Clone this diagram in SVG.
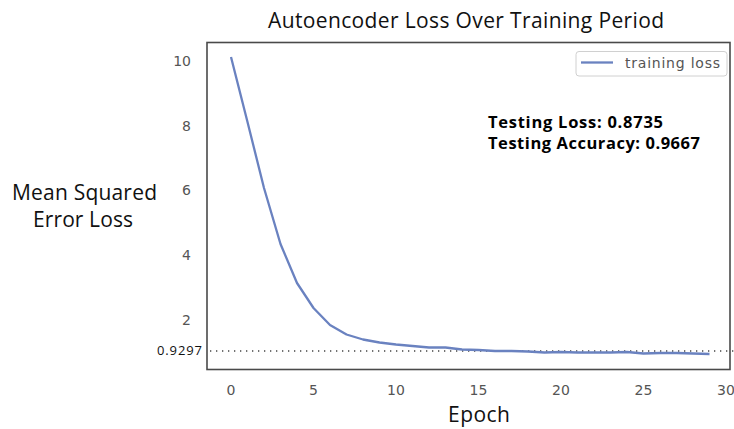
<svg xmlns="http://www.w3.org/2000/svg" width="734" height="429" viewBox="0 0 734 429">
<style>
.tick{font-family:"DejaVu Sans",sans-serif;font-size:14px;fill:#555}
.lab{font-family:"Open Sans","Liberation Sans",sans-serif;font-size:21px;fill:#111}
.bold{font-family:"Open Sans","Liberation Sans",sans-serif;font-size:16.5px;font-weight:bold;fill:#000}
</style>
<rect width="734" height="429" fill="#fff"/>
<g id="title"><text class="lab" x="268" y="28" font-size="19.5" textLength="396">Autoencoder Loss Over Training Period</text></g>
<g id="frame"><rect x="207" y="42.5" width="523" height="327" fill="none" stroke="#4a4a4a" stroke-width="1.6"/></g>
<g id="yticks">
<text class="tick" x="191" y="66" text-anchor="end">10</text>
<text class="tick" x="191" y="131" text-anchor="end">8</text>
<text class="tick" x="191" y="195" text-anchor="end">6</text>
<text class="tick" x="191" y="260" text-anchor="end">4</text>
<text class="tick" x="191" y="325" text-anchor="end">2</text>
</g>
<g id="xticks">
<text class="tick" x="231" y="395" text-anchor="middle">0</text>
<text class="tick" x="313.5" y="395" text-anchor="middle">5</text>
<text class="tick" x="396" y="395" text-anchor="middle">10</text>
<text class="tick" x="478.5" y="395" text-anchor="middle">15</text>
<text class="tick" x="561" y="395" text-anchor="middle">20</text>
<text class="tick" x="643.5" y="395" text-anchor="middle">25</text>
<text class="tick" x="726" y="395" text-anchor="middle">30</text>
</g>
<g id="ylabel"><text class="lab" x="12" y="200" textLength="145">Mean Squared</text><text class="lab" x="33" y="227" textLength="100">Error Loss</text></g>
<g id="xlabel"><text class="lab" x="448" y="422" textLength="62">Epoch</text></g>
<g id="connectors">
<line id="minline" x1="210" y1="351" x2="734" y2="351" stroke="#444" stroke-width="1.3" stroke-dasharray="1.3 4.7"/>
<polyline id="curve" fill="none" stroke="#6a82c0" stroke-width="2.3" stroke-linejoin="round" points="231,57 247.5,122 264,188 280.5,244 297,283 313.5,308 330,325 346.5,334.5 363,339.5 379.5,342.5 396,344.5 412.5,346 429,347.5 445.5,347.5 462,349.5 478.5,350 495,351 511.5,351 528,351.5 544.5,352.5 561,352 577.5,352.5 594,352.5 610.5,352.5 627,352 643.5,353.5 660,353 676.5,353 693,353.5 709.5,354"/>
</g>
<g id="minlabel"><text x="157" y="355" textLength="45" font-family="'Open Sans','Liberation Sans',sans-serif" font-size="13" fill="#111">0.9297</text></g>
<g id="legend">
<rect x="576" y="51.5" width="151" height="24.5" rx="3" fill="#fff" stroke="#d0d0d0" stroke-width="1"/>
<line x1="581" y1="62.5" x2="613" y2="62.5" stroke="#6a82c0" stroke-width="2.3"/>
<text class="tick" x="625" y="67.5" textLength="95">training loss</text>
</g>
<g id="stats">
<text class="bold" x="488" y="128" textLength="175">Testing Loss: 0.8735</text>
<text class="bold" x="488" y="149" textLength="212">Testing Accuracy: 0.9667</text>
</g>
</svg>
